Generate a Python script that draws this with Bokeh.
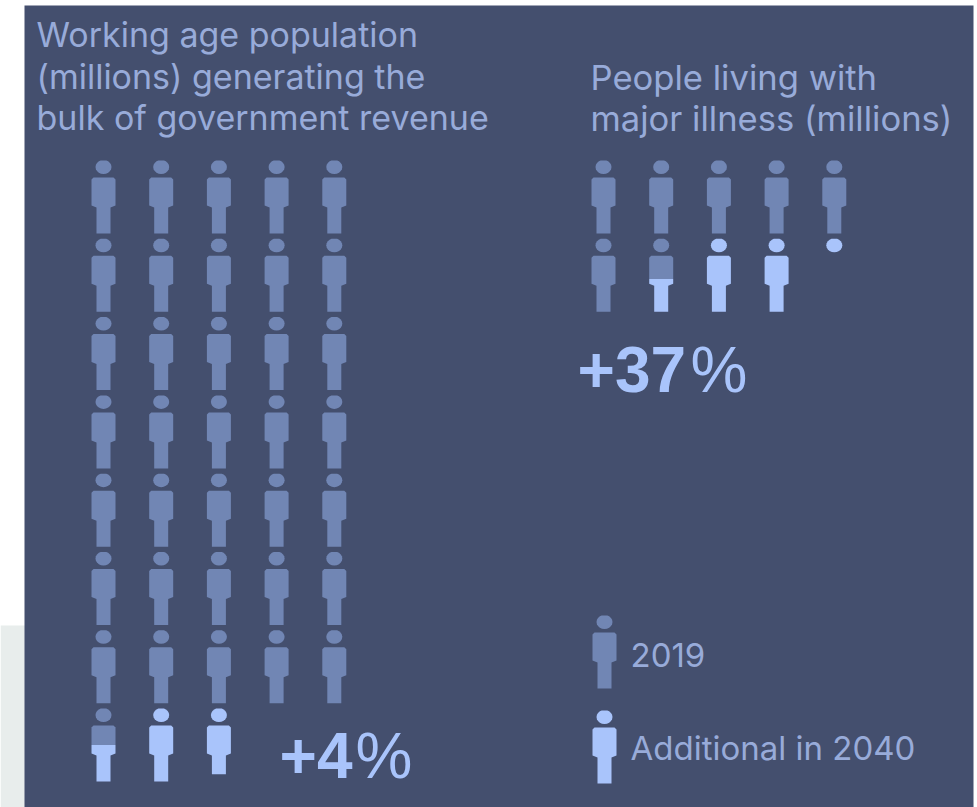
from bokeh.embed import file_html
from bokeh.models import ColumnDataSource
from bokeh.plotting import figure
from bokeh.resources import INLINE
from bokeh.core.properties import value
import math

# Pictogram quantities, one figure per unit
working_age_2019 = 35.5
working_age_added = 2.4
illness_2019 = 6.55
illness_added = 2.65

titles_left = ["Working age population", "(millions) generating the", "bulk of government revenue"]
titles_right = ["People living with", "major illness (millions)"]
change_labels = ["+4%", "+37%"]
legend_labels = ["2019", "Additional in 2040"]

BG = "#444F6E"
BASE = "#7186B4"
ADDED = "#A9C4FB"
TITLE = "#98ABD9"
FONT = "Inter"
BIG_FONT = "Liberation Sans"

HEIGHT = 73.0
COLS = 5
COL_STEP = 57.7
ROW_STEP = 78.3


def head_outline(cx, top):
    return [(cx + 8 * math.cos(2 * math.pi * i / 20), top + 6.5 + 7 * math.sin(2 * math.pi * i / 20)) for i in range(20)]


def body_outline(cx, top):
    # Shoulders and legs of one figure, outlined clockwise
    y0, y1, y2 = top + 17, top + 47, top + 73
    return [(cx - 10, y0), (cx + 10, y0), (cx + 12, y0 + 2), (cx + 12, y1 - 2), (cx + 7, y1), (cx + 7, y2),
            (cx - 7, y2), (cx - 7, y1), (cx - 12, y1 - 2), (cx - 12, y0 + 2)]


def clip(poly, y, keep_above):
    # Cuts a polygon along a horizontal line
    out = []
    inside = (lambda pt: pt[1] <= y) if keep_above else (lambda pt: pt[1] >= y)
    for i, a in enumerate(poly):
        b = poly[(i + 1) % len(poly)]
        if inside(a):
            out.append(a)
        if inside(a) != inside(b):
            t = (y - a[1]) / (b[1] - a[1])
            out.append((a[0] + t * (b[0] - a[0]), y))
    return out


def add_span(parts, cx, top, f0, f1, color):
    # Adds the slice of a figure between two height fractions
    y0, y1 = top + f0 * HEIGHT, top + f1 * HEIGHT
    for outline in (head_outline(cx, top), body_outline(cx, top)):
        piece = clip(clip(outline, y0, False), y1, True)
        if len(piece) > 2:
            parts["xs"].append([pt[0] for pt in piece])
            parts["ys"].append([pt[1] for pt in piece])
            parts["color"].append(color)


def add_block(parts, x0, y0, base, added):
    total = base + added
    for i in range(math.ceil(total)):
        cx = x0 + (i % COLS) * COL_STEP
        top = y0 + (i // COLS) * ROW_STEP
        base_part = min(max(base - i, 0.0), 1.0)
        total_part = min(total - i, 1.0)
        if base_part > 0:
            add_span(parts, cx, top, 0.0, base_part, BASE)
        if total_part > base_part:
            add_span(parts, cx, top, base_part, total_part, ADDED)


p = figure(width=977, height=807, x_range=(0, 977), y_range=(807, 0), output_backend="svg",
           toolbar_location=None, min_border=0, outline_line_color=None,
           background_fill_color="white", border_fill_color="white")
p.axis.visible = False
p.grid.visible = False

p.quad(left=[0], right=[30], top=[625], bottom=[807], fill_color="#E8EDEC", line_color=None)
p.quad(left=[24], right=[973], top=[5], bottom=[807], fill_color=BG, line_color=None)

parts = {"xs": [], "ys": [], "color": []}
add_block(parts, 103, 160, working_age_2019, working_age_added)
add_block(parts, 603, 160, illness_2019, illness_added)
add_span(parts, 604, 615, 0.0, 1.0, BASE)
add_span(parts, 604, 710, 0.0, 1.0, ADDED)
p.patches("xs", "ys", fill_color="color", line_color=None, source=ColumnDataSource(parts))


def label(x, y, text, size, color=TITLE, style="normal", font=FONT):
    # y is the wanted baseline; the renderer sets glyphs lower by a share of the font size
    p.text([x], [y - 0.37 * size], text=[text], text_font=value(font), text_font_size=f"{size}px",
           text_color=color, text_baseline="alphabetic", text_font_style=style)


for i, line in enumerate(titles_left):
    label(36, 47 + i * 41.5, line, 34)
for i, line in enumerate(titles_right):
    label(590, 89 + i * 41.5, line, 34.6)

# Digits are heavy, the percent sign is set in the regular weight
label(279, 779, change_labels[0][:-1], 64, ADDED, "bold", BIG_FONT)
label(355, 779, change_labels[0][-1], 64, ADDED, "normal", BIG_FONT)
label(577, 393, change_labels[1][:-1], 64, ADDED, "bold", BIG_FONT)
label(690, 393, change_labels[1][-1], 64, ADDED, "normal", BIG_FONT)
label(630, 667, legend_labels[0], 33)
label(630, 760, legend_labels[1], 33)

open("out.html", "w").write(file_html(p, INLINE))
